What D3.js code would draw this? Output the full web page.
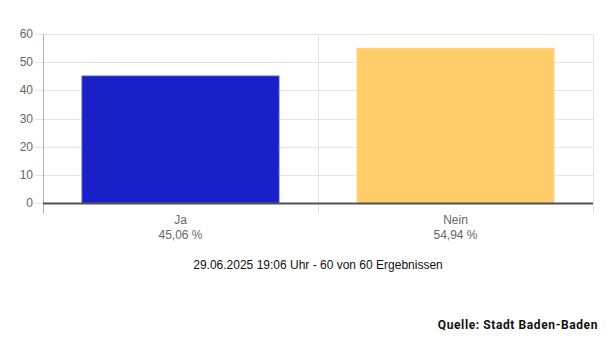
<!DOCTYPE html>
<html>
<head>
<meta charset="utf-8">
<script src="https://cdn.jsdelivr.net/npm/d3@7"></script>
<style>
  body { margin: 0; background: #fff; }
  svg { display: block; }
</style>
</head>
<body>
<svg id="chart" width="608" height="342"></svg>
<script>
// data
const categories = ['Ja', 'Nein'];
const percents = [45.06, 54.94];
const percentLabels = ['45,06 %', '54,94 %'];
const barColors = ['#1a20c8', '#ffcc69'];
const barBorders = ['#3c47d6', '#ffd27a'];
const yTicks = [0, 10, 20, 30, 40, 50, 60];
const subtitle = '29.06.2025 19:06 Uhr - 60 von 60 Ergebnissen';
const source = 'Quelle: Stadt Baden-Baden';

const svg = d3.select('#chart');
const plot = { left: 43, right: 593, top: 34, bottom: 203 };

const x = d3.scaleBand()
  .domain(categories)
  .range([plot.left, plot.right])
  .paddingInner(0)
  .paddingOuter(0);

const y = d3.scaleLinear()
  .domain([0, 60])
  .range([plot.bottom, plot.top]);

const barW = x.bandwidth() * 0.716;

// horizontal grid
svg.append('g')
  .selectAll('line')
  .data(yTicks)
  .enter()
  .append('line')
  .attr('x1', plot.left - 8)
  .attr('x2', plot.right)
  .attr('y1', (d) => Math.round(y(d)) + 0.5)
  .attr('y2', (d) => Math.round(y(d)) + 0.5)
  .attr('stroke', '#e4e4e4')
  .attr('stroke-width', 1);

// vertical grid (category boundaries)
const vLines = [plot.left, x('Nein'), plot.right];
svg.append('g')
  .selectAll('line')
  .data(vLines)
  .enter()
  .append('line')
  .attr('x1', (d) => Math.round(d) + 0.5)
  .attr('x2', (d) => Math.round(d) + 0.5)
  .attr('y1', plot.top)
  .attr('y2', plot.bottom + 11)
  .attr('stroke', (d, i) => (i === 0 ? '#b0b0b0' : '#e4e4e4'))
  .attr('stroke-width', 1);

// bars
svg.append('g')
  .selectAll('rect')
  .data(percents)
  .enter()
  .append('rect')
  .attr('x', (d, i) => x(categories[i]) + (x.bandwidth() - barW) / 2)
  .attr('y', (d) => y(d))
  .attr('width', barW)
  .attr('height', (d) => plot.bottom - y(d))
  .attr('fill', (d, i) => barColors[i])
  .attr('stroke', (d, i) => barBorders[i])
  .attr('stroke-width', 1);

// zero line
svg.append('line')
  .attr('x1', plot.left)
  .attr('x2', plot.right)
  .attr('y1', y(0) + 0.5)
  .attr('y2', y(0) + 0.5)
  .attr('stroke', '#505050')
  .attr('stroke-width', 2);

// y tick labels
svg.append('g')
  .selectAll('text')
  .data(yTicks)
  .enter()
  .append('text')
  .attr('x', 33)
  .attr('y', (d) => y(d) + 4)
  .attr('text-anchor', 'end')
  .attr('font-family', 'Arial, "Liberation Sans", sans-serif')
  .attr('font-size', 12)
  .attr('fill', '#666')
  .text((d) => d);

// x labels
const xl = svg.append('g')
  .selectAll('text')
  .data(categories)
  .enter()
  .append('text')
  .attr('text-anchor', 'middle')
  .attr('font-family', 'Arial, "Liberation Sans", sans-serif')
  .attr('font-size', 12)
  .attr('fill', '#666');
xl.append('tspan')
  .attr('x', (d) => x(d) + x.bandwidth() / 2)
  .attr('y', 224)
  .text((d) => d);
xl.append('tspan')
  .attr('x', (d) => x(d) + x.bandwidth() / 2)
  .attr('y', 239)
  .text((d, i) => percentLabels[i]);

// subtitle
svg.append('text')
  .attr('x', 318)
  .attr('y', 269)
  .attr('text-anchor', 'middle')
  .attr('font-family', 'Arial, "Liberation Sans", sans-serif')
  .attr('font-size', 12)
  .attr('fill', '#111')
  .text(subtitle);

// source
svg.append('text')
  .attr('x', 598)
  .attr('y', 329)
  .attr('text-anchor', 'end')
  .attr('font-family', 'Roboto, sans-serif')
  .attr('font-weight', 'bold')
  .attr('font-size', 12)
  .attr('letter-spacing', 0.6)
  .attr('fill', '#111')
  .text(source);
</script>
</body>
</html>
